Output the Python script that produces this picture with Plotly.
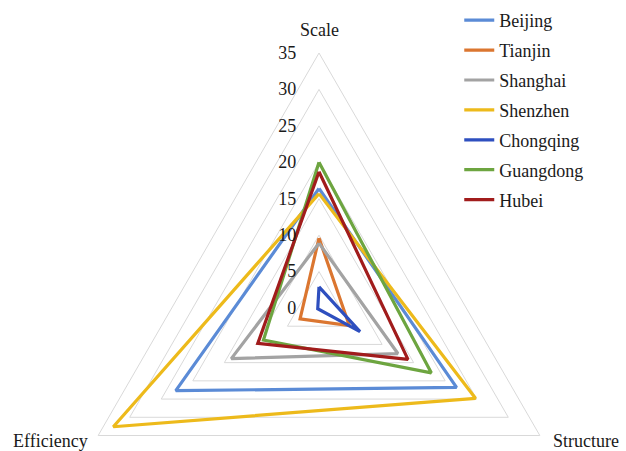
import plotly.graph_objects as go

# Radar chart of three index dimensions for seven cities / provinces
categories = ["Scale", "Structure", "Efficiency"]
regions = ["Beijing", "Tianjin", "Shanghai", "Shenzhen", "Chongqing", "Guangdong", "Hubei"]
scale_vals = [16.4, 9.6, 8.9, 15.7, 2.9, 20.0, 18.7]
structure_vals = [21.8, 4.8, 12.5, 24.8, 6.5, 17.8, 14.1]
efficiency_vals = [22.7, 3.0, 13.9, 32.6, 0.2, 8.8, 9.7]
line_colors = ["#5B8BD6", "#DB7630", "#A3A3A3", "#EDBA1B", "#2E4FBF", "#6DA540", "#A11C1C"]
radial_ticks = [0, 5, 10, 15, 20, 25, 30, 35]

FONT = "Liberation Serif, serif"
TEXT_COLOR = "#1a1a1a"
GRID_COLOR = "#D9D9D9"

fig = go.Figure()
for i, name in enumerate(regions):
    r = [scale_vals[i], structure_vals[i], efficiency_vals[i]]
    fig.add_trace(go.Scatterpolar(
        r=r + r[:1],
        theta=categories + categories[:1],
        mode="lines",
        name=name,
        legendgroup=name,
        line=dict(color=line_colors[i], width=3.2),
        hoverinfo="name+r+theta",
    ))

W, H = 626, 563
fig.update_layout(
    width=W,
    height=H,
    margin=dict(l=64, r=52, t=53, b=0),
    paper_bgcolor="white",
    font=dict(family=FONT, size=18, color=TEXT_COLOR),
    polar=dict(
        domain=dict(x=[0, 1], y=[0, 1]),
        gridshape="linear",
        bgcolor="white",
        angularaxis=dict(
            type="category",
            categoryarray=categories,
            direction="clockwise",
            rotation=90,
            showgrid=False,
            showline=True,
            linecolor=GRID_COLOR,
            linewidth=1,
            ticks="",
            showticklabels=False,
        ),
        radialaxis=dict(
            range=[0, 35],
            tickvals=radial_ticks,
            angle=90,
            tickangle=90,
            side="counterclockwise",
            showline=False,
            showgrid=True,
            gridcolor=GRID_COLOR,
            gridwidth=1,
            # invisible ticks keep the value labels clear of the axis
            ticks="outside",
            ticklen=16,
            tickcolor="rgba(0,0,0,0)",
            tickfont=dict(family=FONT, size=18, color=TEXT_COLOR),
        ),
    ),
    legend=dict(
        x=0.775,
        y=1.10,
        xanchor="left",
        yanchor="top",
        font=dict(family=FONT, size=18, color=TEXT_COLOR),
        tracegroupgap=3.5,
        bgcolor="rgba(0,0,0,0)",
    ),
    showlegend=True,
)

# Dimension names at the three vertices
axis_titles = [
    dict(text=categories[0], x=0.5, y=1.045, xanchor="center", yanchor="middle"),
    dict(text=categories[1], x=0.955, y=0.239, xanchor="left", yanchor="middle"),
    dict(text=categories[2], x=0.051, y=0.239, xanchor="right", yanchor="middle"),
]
for a in axis_titles:
    fig.add_annotation(
        xref="paper", yref="paper", showarrow=False,
        font=dict(family=FONT, size=18, color=TEXT_COLOR), **a,
    )

fig.write_html("out.html")
